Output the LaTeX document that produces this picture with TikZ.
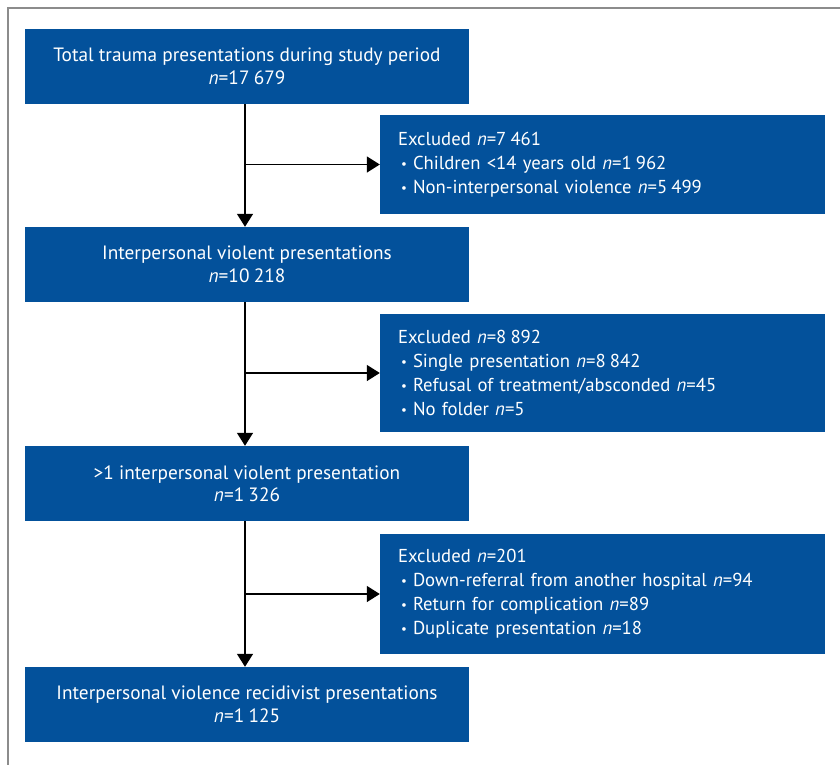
\documentclass[tikz,border=0pt]{standalone}
\usepackage{fontspec}
\setmainfont{PT Sans}
\usetikzlibrary{arrows.meta}
\definecolor{boxblue}{RGB}{3,81,155}
\definecolor{framegray}{RGB}{140,140,140}
\newcommand\exbul{\hspace*{3pt}\makebox[12pt][l]{\raisebox{1pt}{\fontsize{13}{13}\selectfont\textbullet}}}
\newcommand\ts{\hspace{0.22em}}
\begin{document}
\begin{tikzpicture}[x=1pt,y=-1pt,
  mainbox/.style={fill=boxblue, text=white, minimum width=444pt, minimum height=75pt,
    align=center, inner sep=0pt, font=\fontsize{19.3}{22.5}\selectfont},
  exbox/.style={fill=boxblue, text=white, minimum width=445pt, text width=409pt,
    inner xsep=18pt, inner ysep=0pt, align=left, font=\fontsize{18.7}{24}\selectfont},
  arr/.style={line width=1.5pt, -{Triangle[length=13pt,width=16pt]}},
  frame/.style={framegray, line width=1.5pt}]
\useasboundingbox (0,0) rectangle (840,765);
\draw[frame] (8,765) -- (8,8) -- (840,8);
\coordinate (col) at (245,0);
\node[mainbox] (b1) at (247,66.5) {Total trauma presentations during study period\\\textit{n}=17\ts679};
\node[mainbox] (b2) at (247,264.5) {Interpersonal violent presentations\\\textit{n}=10\ts218};
\node[mainbox] (b3) at (247,483.5) {>1 interpersonal violent presentation\\\textit{n}=1\ts326};
\node[mainbox] (b4) at (247,704.5) {Interpersonal violence recidivist presentations\\\textit{n}=1\ts125};
\node[exbox, minimum height=99pt] (e1) at (602.5,164.5) {Excluded \textit{n}=7\ts461\\
  \exbul Children <14 years old \textit{n}=1\ts962\\
  \exbul Non-interpersonal violence \textit{n}=5\ts499};
\node[exbox, minimum height=118pt] (e2) at (602.5,373) {Excluded \textit{n}=8\ts892\\
  \exbul Single presentation \textit{n}=8\ts842\\
  \exbul Refusal of treatment/absconded \textit{n}=45\\
  \exbul No folder \textit{n}=5};
\node[exbox, minimum height=120pt] (e3) at (602.5,594) {Excluded \textit{n}=201\\
  \exbul Down-referral from another hospital \textit{n}=94\\
  \exbul Return for complication \textit{n}=89\\
  \exbul Duplicate presentation \textit{n}=18};
\draw[arr] (b1.south -| col) -- (b2.north -| col);
\draw[arr] (b2.south -| col) -- (b3.north -| col);
\draw[arr] (b3.south -| col) -- (b4.north -| col);
\draw[arr] (e1.west -| col) -- (e1.west);
\draw[arr] (e2.west -| col) -- (e2.west);
\draw[arr] (e3.west -| col) -- (e3.west);
\end{tikzpicture}
\end{document}
